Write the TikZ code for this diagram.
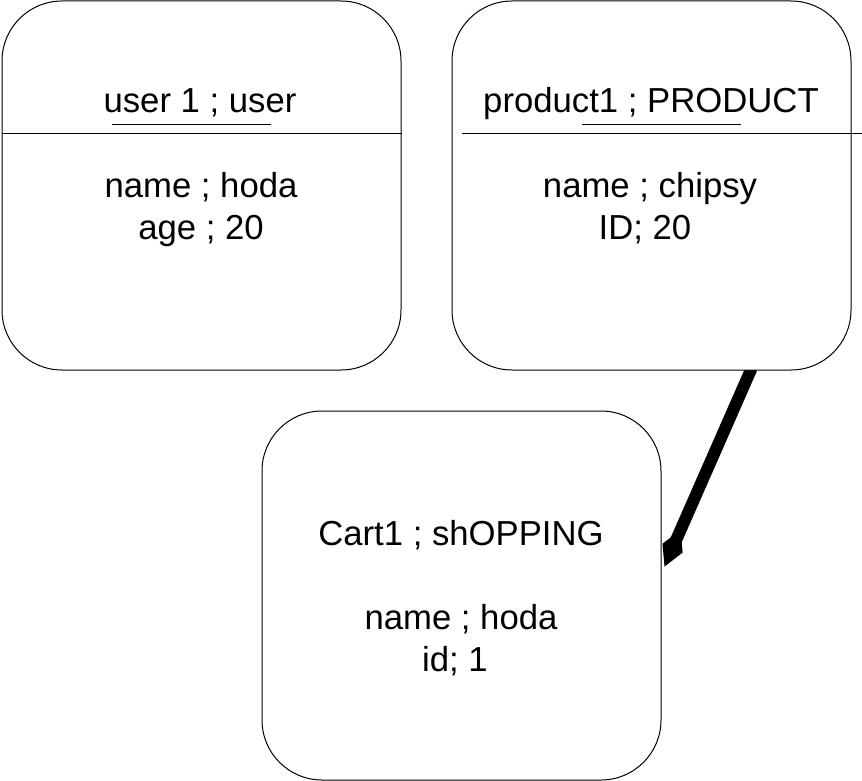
\documentclass[tikz,border=0pt]{standalone}
\usepackage{fontspec}
\setmainfont{Liberation Sans}
\usetikzlibrary{calc,arrows.meta,backgrounds}

\tikzset{
    objbox/.style={draw, fill=white, line width=1pt, rounded corners=60pt, minimum width=399pt, minimum height=369pt, inner sep=0pt},
    objtext/.style={anchor=base, inner sep=0pt, font=\fontsize{34.7}{42}\selectfont},
}

\begin{document}
\begin{tikzpicture}[x=1pt, y=-1pt]
        \useasboundingbox (0, 0) rectangle (862, 781);

        % user object
        \node [objbox] (user) at (201.5, 185.5) {};
        \draw [line width=1pt] (user.west |- 0, 134) -- (user.east |- 0, 134);
        \node [objtext] (usertitle) at (200, 113) {user 1 ; user};
        \draw [line width=1pt] (112, 125) -- (271, 125);
        \node [objtext] (username) at (201, 197) {name ; hoda};
        \node [objtext] (userage) at (201, 239) {age ; 20};

        % product object
        \node [objbox] (prod) at (651.5, 185.5) {};
        \draw [line width=1pt] (462, 134) -- (862, 134);
        \node [objtext] (prodtitle) at (651, 113) {product1 ; PRODUCT};
        \draw [line width=1pt] (582, 125) -- (741, 125);
        \node [objtext] (prodname) at (650, 197) {name ; chipsy};
        \node [objtext] (prodid) at (645, 239) {ID; 20};

        % cart object
        \node [objbox] (cart) at (461.5, 595.5) {};
        \node [objtext] (carttitle) at (461, 545) {Cart1 ; shOPPING};
        \node [objtext] (cartname) at (461, 629) {name ; hoda};
        \node [objtext] (cartid) at (455, 671) {id; 1};

        % link product -> cart
        \coordinate (linkstart) at ($(prod.south)+(100, -2)$);
        \coordinate (linkend) at ($(cart.east)+(3, -29)$);
        \begin{scope}[on background layer]
            \draw [line width=12pt, -{Diamond[length=40pt, width=22pt]}] (linkstart) -- (linkend);
        \end{scope}
\end{tikzpicture}
\end{document}
